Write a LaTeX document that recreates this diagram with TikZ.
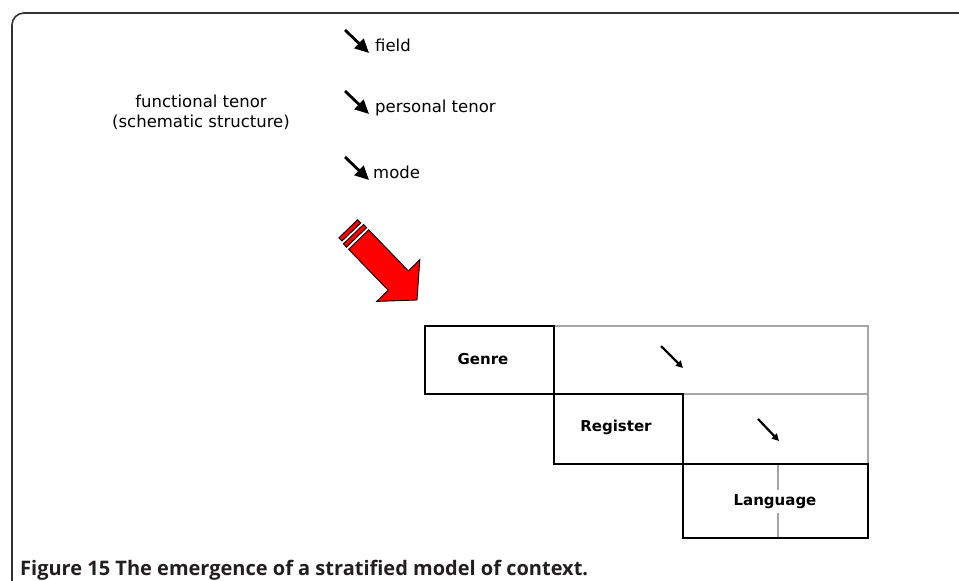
\documentclass[tikz,border=0pt]{standalone}
\usepackage{fontspec}
\setmainfont{DejaVu Sans}
\newfontfamily\capfont{Open Sans}
\usetikzlibrary{arrows.meta}
\definecolor{framecol}{HTML}{333333}
\definecolor{capcol}{HTML}{231F20}
\definecolor{arrred}{HTML}{FF0000}
\tikzset{
  lbl/.style={inner sep=0pt, font=\fontsize{16.5}{19}\selectfont},
  celllbl/.style={inner sep=0pt, font=\fontsize{15}{17}\selectfont\bfseries},
  caplbl/.style={inner sep=0pt, text=capcol, font=\capfont\bfseries\fontsize{20}{24}\selectfont},
  blkarrow/.style={line width=2.8pt, -{Triangle[length=14pt,width=13pt]}},
  smallarr/.style={line width=2.2pt, -{Triangle[length=7pt,width=7pt]}},
  cellthick/.style={line width=2.8pt, black, line cap=rect},
  cellthin/.style={line width=1.5pt, gray!70},
  redshape/.style={fill=arrred, draw=black, line width=0.9pt, line join=miter},
  framestyle/.style={line width=1.6pt, framecol, rounded corners=12pt}
}
\begin{document}
\begin{tikzpicture}[x=1pt,y=-1pt]
\useasboundingbox (0,0) rectangle (959,581);
% frame
\draw[framestyle] (12,581) -- (12,13) -- (959,13);
% left text
\node[lbl, anchor=base] (ft) at (201,107) {functional tenor};
\node[lbl, anchor=base] (ss) at (201,127) {(schematic structure)};
% right list
\node[lbl, anchor=base west] (field) at (375,51) {field};
\node[lbl, anchor=base west] (ptenor) at (375,112) {personal tenor};
\node[lbl, anchor=base west] (mode) at (373,178) {mode};
\coordinate (a1s) at (345,30); \coordinate (a1e) at (369,53);
\coordinate (a2s) at (345,91); \coordinate (a2e) at (369,114);
\coordinate (a3s) at (345,157); \coordinate (a3e) at (369,180);
\draw[blkarrow] (a1s) -- (a1e);
\draw[blkarrow] (a2s) -- (a2e);
\draw[blkarrow] (a3s) -- (a3e);
% red arrow
\begin{scope}[shift={(417,300)}, rotate=-46]
  \draw[redshape] (0,0) -- (-27,30) -- (-27,14) -- (-84,14) -- (-84,-14) -- (-27,-14) -- (-27,-30) -- cycle;
  \draw[redshape] (-87,-14) rectangle (-91.5,14);
  \draw[redshape] (-94.5,-13) rectangle (-99,13);
\end{scope}
% table grid
\draw[cellthin] (554,326) -- (868,326) -- (868,464);
\draw[cellthin] (683,394) -- (868,394);
\draw[cellthin] (778,464) -- (778,490);
\draw[cellthin] (778,513) -- (778,538);
\draw[cellthick] (425,326) rectangle (554,394);
\draw[cellthick] (554,394) rectangle (683,464);
\draw[cellthick] (683,464) rectangle (868,538);
% cell labels
\node[celllbl] (genre) at (483,359) {Genre};
\node[celllbl] (register) at (616,427) {Register};
\node[celllbl] (language) at (775,502) {Language};
\coordinate (s1s) at (661,346); \coordinate (s1e) at (683,368);
\coordinate (s2s) at (758,419); \coordinate (s2e) at (779,441);
\draw[smallarr] (s1s) -- (s1e);
\draw[smallarr] (s2s) -- (s2e);
% caption
\node[caplbl, anchor=base west] (cap) at (20,575) {Figure 15 The emergence of a stratified model of context.};
\end{tikzpicture}
\end{document}
